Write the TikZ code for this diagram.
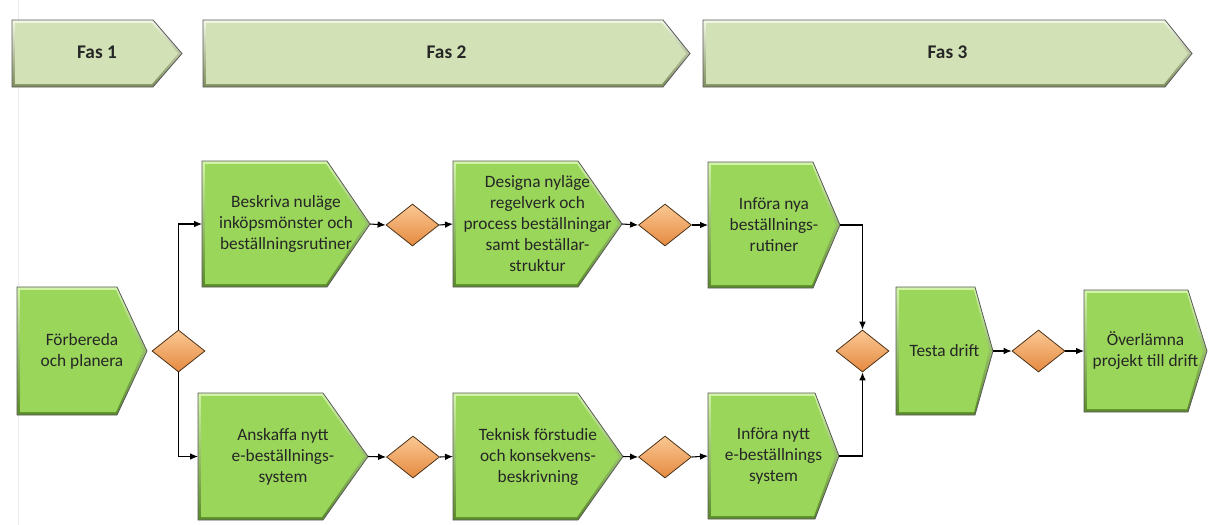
\documentclass[tikz,border=0pt]{standalone}
\usepackage{fontspec}
\setmainfont{Carlito}
\usetikzlibrary{shapes.geometric,arrows.meta}

\definecolor{phaseface}{HTML}{D3E2B6}
\definecolor{phasehi}{HTML}{F2F8E6}
\definecolor{phaselo}{HTML}{7E8E5C}
\definecolor{stepface}{HTML}{9AD65A}
\definecolor{stephi}{HTML}{D2F5A8}
\definecolor{steplo}{HTML}{5A8A2A}
\definecolor{gatehi}{HTML}{FBC894}
\definecolor{gatelo}{HTML}{E48A40}

\tikzset{
  rim/.style={draw=black!65,line width=.6pt},
  steptext/.style={align=center,inner sep=0pt,text=black!85,
    font=\fontsize{13}{15.75}\selectfont},
  phasetext/.style={inner sep=0pt,text=black!85,
    font=\fontsize{14.5}{17}\selectfont\bfseries},
  gate/.style={diamond,inner sep=0pt,minimum width=39.75pt,minimum height=31.5pt,
    top color=gatehi,bottom color=gatelo,draw=black!60!brown,line width=.6pt},
  flow/.style={line width=.8pt,-{Latex[length=6pt,width=5pt]}}
}

% #1 name, #2 left, #3 top, #4 shoulder, #5 tip, #6 bottom, #7 text
\newcommand\stepbox[7]{%
  \shade[top color=stephi,bottom color=steplo]
    (#2,#3) -- (#4,#3) -- (#5,{(#3+#6)/2}) -- (#4,#6) -- (#2,#6) -- cycle;
  \fill[stepface] ({#2+3},{#3+3}) -- ({#4-1},{#3+3}) -- ({#5-4},{(#3+#6)/2})
    -- ({#4-1},{#6-3}) -- ({#2+3},{#6-3}) -- cycle;
  \draw[rim] (#2,#3) -- (#4,#3) -- (#5,{(#3+#6)/2}) -- (#4,#6) -- (#2,#6) -- cycle;
  \node[steptext] (#1) at ({(#2+#5)/2},{(#3+#6)/2}) {#7};
  \coordinate (#1-in) at (#2,{(#3+#6)/2});
  \coordinate (#1-out) at (#5,{(#3+#6)/2});
}
\newcommand\phasebox[6]{%
  \shade[top color=phasehi,bottom color=phaselo]
    (#2,#3) -- (#4,#3) -- (#5,{(#3+#6)/2}) -- (#4,#6) -- (#2,#6) -- cycle;
  \fill[phaseface] ({#2+3},{#3+3}) -- ({#4-1},{#3+3}) -- ({#5-4},{(#3+#6)/2})
    -- ({#4-1},{#6-3}) -- ({#2+3},{#6-3}) -- cycle;
  \draw[rim] (#2,#3) -- (#4,#3) -- (#5,{(#3+#6)/2}) -- (#4,#6) -- (#2,#6) -- cycle;
  \node[phasetext] (#1) at ({(#2+#5)/2},{(#3+#6)/2}) {\strut Fas #1};
}

\begin{document}
\begin{tikzpicture}[x=.75pt,y=-.75pt]
	\useasboundingbox (0,0) rectangle (1208,525);
	\draw[black!8] (18,0) -- (18,525);

	% faser
	\phasebox{1}{12}{20}{153}{182}{87}
	\phasebox{2}{203}{20}{663}{690}{87}
	\phasebox{3}{703}{20}{1165}{1192}{87}

	% aktiviteter
	\stepbox{forb}{17}{287}{117}{147}{415}{Förbereda\\och planera}
	\stepbox{besk}{202}{161}{327}{370}{287}{Beskriva nuläge\\inköpsmönster och\\beställningsrutiner}
	\stepbox{desi}{453}{161}{578}{622}{287}{Designa nyläge\\regelverk och\\process beställningar\\samt beställar-\\struktur}
	\stepbox{infa}{708}{162}{813}{840}{288}{Införa nya\\beställnings-\\rutiner}
	\stepbox{ansk}{198}{393}{323}{368}{520}{Anskaffa nytt\\e-beställnings-\\system}
	\stepbox{tekn}{453}{393}{578}{623}{520}{Teknisk förstudie\\och konsekvens-\\beskrivning}
	\stepbox{infb}{708}{393}{815}{839}{519}{Införa nytt\\e-beställnings\\system}
	\stepbox{test}{896}{287}{975}{993}{415}{Testa drift}
	\stepbox{over}{1084}{290}{1188}{1207}{412}{Överlämna\\projekt till drift}

	% grindar
	\node[gate] (g1) at (178.5,351) {};
	\node[gate] (g2) at (412.5,225) {};
	\node[gate] (g3) at (665,225) {};
	\node[gate] (g4) at (862.5,351) {};
	\node[gate] (g5) at (1038.5,351) {};
	\node[gate] (g6) at (413,457) {};
	\node[gate] (g7) at (665,457) {};

	\draw[flow] (g1.north) |- (besk-in);
	\draw[flow] (g1.south) |- (ansk-in);
	\draw[flow] (besk-out) -- (g2.west);
	\draw[flow] (g2.east) -- (desi-in);
	\draw[flow] (desi-out) -- (g3.west);
	\draw[flow] (g3.east) -- (infa-in);
	\draw[flow] (ansk-out) -- (g6.west);
	\draw[flow] (g6.east) -- (tekn-in);
	\draw[flow] (tekn-out) -- (g7.west);
	\draw[flow] (g7.east) -- (infb-in);
	\draw[flow] (infa-out) -| (g4.north);
	\draw[flow] (infb-out) -| (g4.south);
	\draw[flow] (test-out) -- (g5.west);
	\draw[flow] (g5.east) -- (over-in);
\end{tikzpicture}
\end{document}
